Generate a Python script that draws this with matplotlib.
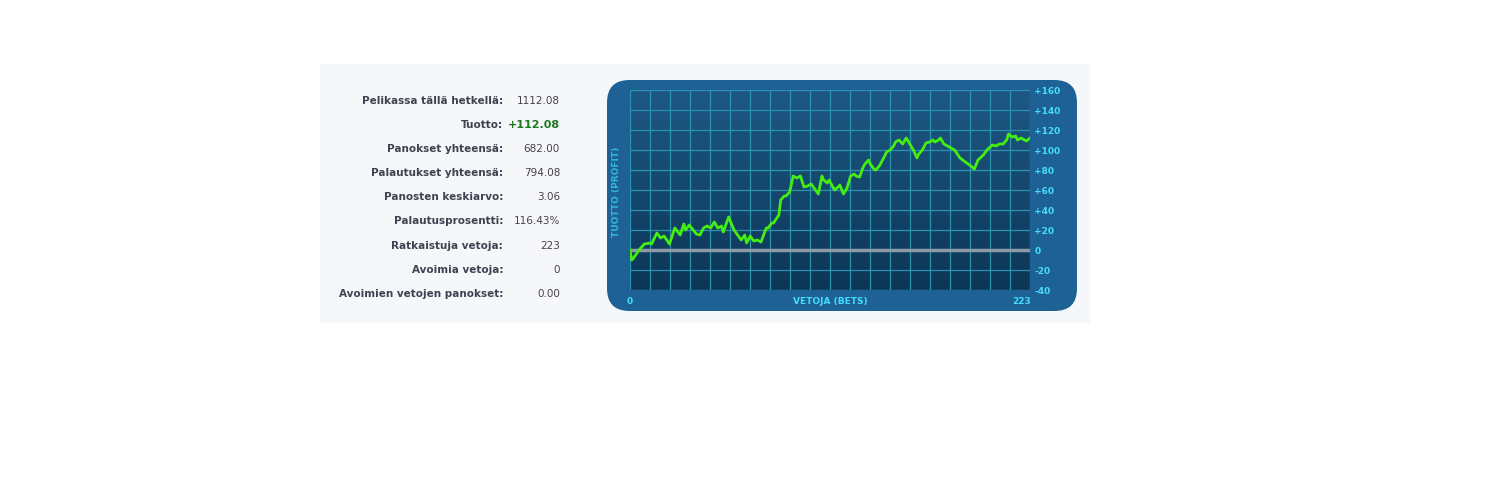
import numpy as np
from matplotlib import pyplot as plt
from matplotlib.patches import FancyBboxPatch, Rectangle

labels = ['Pelikassa tällä hetkellä:', 'Tuotto:', 'Panokset yhteensä:', 'Palautukset yhteensä:',
          'Panosten keskiarvo:', 'Palautusprosentti:', 'Ratkaistuja vetoja:', 'Avoimia vetoja:',
          'Avoimien vetojen panokset:']
values = ['1112.08', '+112.08', '682.00', '794.08', '3.06', '116.43%', '223', '0', '0.00']

bets = [0, 1, 2, 5, 8, 11, 12, 15, 17, 19, 22, 25, 28, 30, 31, 33, 37, 39, 41, 43, 45, 47, 49, 51, 52,
        55, 58, 62, 64, 65, 67, 69, 71, 73, 76, 77, 79, 80, 83, 84, 86, 87, 89, 91, 93, 95, 97, 99, 101,
        103, 105, 107, 108, 110, 111, 114, 116, 117, 119, 121, 123, 125, 126, 128, 130, 131, 133, 134,
        136, 137, 139, 142, 143, 145, 147, 148, 150, 152, 154, 156, 158, 160, 161, 163, 165, 167, 169,
        170, 172, 173, 175, 177, 181, 184, 187, 190, 192, 194, 197, 199, 202, 204, 206, 208, 210, 211,
        213, 215, 216, 218, 221, 223]
profit = [0, -10, -8, 0, 6, 7, 6, 17, 12, 14, 6, 22, 15, 26, 20, 25, 16, 15, 22, 24, 22, 28, 22, 24, 18,
          33, 20, 10, 15, 7, 14, 9, 10, 8, 22, 22, 27, 27, 35, 50, 54, 54, 58, 74, 72, 74, 63, 64, 66,
          61, 56, 74, 70, 67, 70, 60, 63, 65, 56, 62, 74, 76, 74, 73, 83, 86, 90, 86,
          81, 80, 84, 94, 98, 100, 104, 108, 110, 106, 112, 106, 100, 92, 96, 100, 107, 108, 110,
          108, 110, 112, 106, 104, 100, 92, 88, 84, 81, 90, 95, 100, 105, 104, 106, 106, 110, 116,
          113, 114, 110, 112, 109, 112]
yticks = [-40, -20, 0, 20, 40, 60, 80, 100, 120, 140, 160]

W, H = 1503, 501
fig = plt.figure(figsize=(W / 100, H / 100), dpi=100)
fig.patch.set_facecolor('white')

# light panel behind everything
fig.patches.append(Rectangle((320 / W, 1 - 323 / H), 770 / W, 259 / H, transform=fig.transFigure,
                             facecolor='#f5f7fa', edgecolor='none', zorder=0))
# blue rounded chart box
fig.patches.append(FancyBboxPatch((607 / W, 1 - 311 / H), 470 / W, 231 / H, transform=fig.transFigure,
                                  boxstyle='round,pad=0,rounding_size=0.015', mutation_aspect=3,
                                  facecolor='#1e6194', edgecolor='none', zorder=1))

for i, (lab, val) in enumerate(zip(labels, values)):
    y = 1 - (101 + i * 24.1) / H
    fig.text(503 / W, y, lab, ha='right', va='center', fontsize=7.5, fontweight='bold', color='#3d4350')
    if i == 1:
        fig.text(560 / W, y, val, ha='right', va='center', fontsize=8, fontweight='bold', color='#1f7a1f')
    else:
        fig.text(560 / W, y, val, ha='right', va='center', fontsize=7.5, color='#444444')

ax = fig.add_axes([630 / W, 1 - 290 / H, 400 / W, 200 / H])
ax.set_zorder(2)
grad = np.linspace(0, 1, 100).reshape(-1, 1)
ax.imshow(grad, extent=[0, 223, -40, 160], aspect='auto', origin='upper',
          cmap=plt.matplotlib.colors.LinearSegmentedColormap.from_list('g', ['#1d5884', '#0d3656']), zorder=0)
ax.set_xlim(0, 223)
ax.set_ylim(-40, 160)
for xv in np.linspace(0, 223, 21):
    ax.axvline(xv, color='#2b93ad', lw=0.9, zorder=1)
for yv in yticks:
    ax.axhline(yv, color='#2b93ad', lw=0.9, zorder=1)
ax.axhline(0, color='#8a9aa6', lw=2.5, zorder=2)
ax.plot(bets, profit, '-', color='#44ee11', lw=2, zorder=3)
for s in ax.spines.values():
    s.set_visible(False)
ax.set_xticks([])
ax.yaxis.tick_right()
ax.set_yticks(yticks)
ax.set_yticklabels([('+%d' % v if v > 0 else '%d' % v) if v != 0 else '0' for v in yticks])
ax.tick_params(axis='y', length=0, pad=3, labelsize=6.5, labelcolor='#44ddff')
for t in ax.get_yticklabels():
    t.set_fontweight('bold')

cyan = '#44ddff'
fig.text(630 / W, 1 - 301 / H, '0', ha='center', va='center', fontsize=6.5, fontweight='bold', color=cyan)
fig.text(1022 / W, 1 - 301 / H, '223', ha='center', va='center', fontsize=6.5, fontweight='bold', color=cyan)
fig.text(830 / W, 1 - 301 / H, 'VETOJA (BETS)', ha='center', va='center', fontsize=6.5, fontweight='bold', color=cyan)
fig.text(617 / W, 1 - 192 / H, 'TUOTTO (PROFIT)', ha='center', va='center', rotation=90, fontsize=6.5,
         fontweight='bold', color='#2fb8e0')

fig.savefig('out.png', dpi=100, facecolor='white')
